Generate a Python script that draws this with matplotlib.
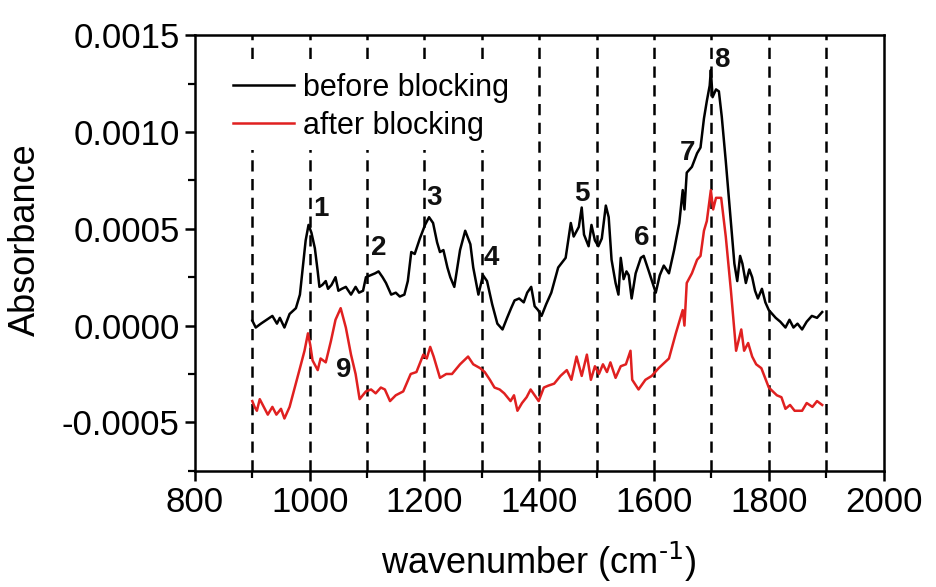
import numpy as np
import matplotlib
matplotlib.use("Agg")
import matplotlib.pyplot as plt
from matplotlib.ticker import MultipleLocator, FormatStrFormatter

plt.rcParams['font.family'] = ['Liberation Sans', 'DejaVu Sans']
plt.rcParams['axes.unicode_minus'] = False
plt.rcParams['mathtext.default'] = 'regular'

# before blocking (black)
wn_before = [900, 906, 915, 925, 935, 943, 948, 956, 965, 976, 983, 988, 993, 998, 1003,
             1009, 1014, 1017, 1022, 1028, 1032, 1038, 1045, 1050, 1056, 1063, 1072, 1080,
             1086, 1093, 1098, 1106, 1114, 1120, 1127, 1133, 1142, 1150, 1157, 1165, 1171,
             1177, 1183, 1192, 1201, 1208, 1215, 1222, 1227, 1233, 1240, 1245, 1252, 1262,
             1271, 1280, 1285, 1294, 1302, 1309, 1318, 1327, 1336, 1344, 1351, 1357, 1365,
             1373, 1379, 1386, 1392, 1398, 1404, 1412, 1421, 1433, 1446, 1455, 1460, 1469,
             1474, 1478, 1486, 1491, 1497, 1503, 1509, 1516, 1521, 1526, 1533, 1538, 1542,
             1547, 1552, 1556, 1561, 1568, 1577, 1582, 1591, 1603, 1610, 1617, 1626, 1635,
             1644, 1650, 1653, 1657, 1666, 1675, 1681, 1687, 1692, 1697, 1699, 1702, 1708,
             1713, 1718, 1725, 1734, 1740, 1745, 1750, 1754, 1760, 1766, 1771, 1776, 1781,
             1788, 1794, 1800, 1812, 1820, 1829, 1836, 1843, 1850, 1858, 1866, 1875, 1884, 1893]
abs_before = [0.000026, -0.00001, 0.00001, 0.00003, 0.00005, 0.00001, 0.00004, -0.00001,
              0.00006, 0.00009, 0.00016, 0.00030, 0.00044, 0.00052, 0.00048,
              0.00040, 0.00028, 0.00020, 0.00021, 0.00023, 0.00019, 0.00021, 0.00025, 0.00018,
              0.00019, 0.00020, 0.00016, 0.00020, 0.00017, 0.00018, 0.00025, 0.00026, 0.00027,
              0.00028, 0.00025, 0.00022, 0.00016, 0.00017, 0.00015, 0.00016, 0.00023,
              0.00038, 0.00037, 0.00045, 0.00052, 0.00056, 0.00053, 0.00043, 0.00038, 0.00039,
              0.00030, 0.00025, 0.00020, 0.00039, 0.00049, 0.00042, 0.00030, 0.00016, 0.00026,
              0.00023, 0.00011, 0.00001, -0.00002, 0.00004, 0.00009, 0.00013, 0.00014,
              0.00012, 0.00017, 0.00020, 0.00010, 0.00008, 0.00005, 0.00011, 0.00017, 0.00030,
              0.00035, 0.00053, 0.00046, 0.00051, 0.00061, 0.00047, 0.00041, 0.00052, 0.00044,
              0.00041, 0.00045, 0.00062, 0.00056, 0.00034, 0.00022, 0.00016, 0.00035,
              0.00024, 0.00028, 0.00026, 0.00014, 0.00027, 0.00035, 0.00036, 0.00028,
              0.00017, 0.00026, 0.00031, 0.00027, 0.00039, 0.00053, 0.00070, 0.00060, 0.00079,
              0.00082, 0.00089, 0.00092, 0.00107, 0.00116, 0.00124, 0.00132, 0.00118, 0.00122,
              0.00121, 0.00108, 0.00085, 0.00053, 0.00032, 0.00023, 0.00036, 0.00032, 0.00022,
              0.00029, 0.00025, 0.00018, 0.00014, 0.00019, 0.00012, 0.00008, 0.00004, 0.00002,
              -0.00001, 0.00003, -0.00001, 0.00001, -0.00002, 0.00002, 0.00005, 0.00004, 0.00007]

# after blocking (red)
wn_after = [900, 904, 908, 913, 920, 927, 935, 942, 950, 956,
            965, 974, 983, 991, 997, 1001, 1005, 1014, 1019, 1028,
            1037, 1045, 1054, 1063, 1072, 1080, 1087, 1098, 1107, 1115,
            1124, 1131, 1140, 1150, 1163, 1176, 1186, 1198, 1204, 1210,
            1216, 1227, 1238, 1248, 1262, 1276, 1285, 1297, 1305, 1314,
            1322, 1331, 1339, 1350, 1356, 1362, 1370, 1378, 1385, 1392,
            1399, 1408, 1416, 1426, 1437, 1448, 1456, 1465, 1474, 1483,
            1490, 1497, 1504, 1511, 1518, 1524, 1533, 1542, 1551, 1559,
            1562, 1573, 1585, 1596, 1608, 1626, 1638, 1650, 1653, 1657,
            1666, 1675, 1681, 1687, 1692, 1699, 1703, 1708, 1717, 1725,
            1734, 1743, 1752, 1757, 1764, 1771, 1778, 1787, 1800, 1814,
            1822, 1829, 1837, 1845, 1858, 1866, 1876, 1884, 1893]
abs_after = [-0.00039, -0.00042, -0.00044, -0.00038, -0.00042, -0.00046, -0.00042, -0.00046, -0.00043, -0.00048,
             -0.00042, -0.00032, -0.00022, -0.00013, -0.00004, -0.00010, -0.00018, -0.00023, -0.00017, -0.00019,
             -0.00008, 0.00003, 0.00009, -0.00001, -0.00015, -0.00025, -0.00038, -0.00034, -0.00033, -0.00035,
             -0.00032, -0.00033, -0.00039, -0.00036, -0.00034, -0.00025, -0.00024, -0.00015, -0.00017, -0.00011,
             -0.00016, -0.00027, -0.00025, -0.00025, -0.00020, -0.00016, -0.00020, -0.00022, -0.00024, -0.00028,
             -0.00032, -0.00033, -0.00035, -0.00039, -0.00036, -0.00044, -0.00040, -0.00037, -0.00033, -0.00036,
             -0.00039, -0.00032, -0.00031, -0.00030, -0.00026, -0.00023, -0.00028, -0.00016, -0.00026, -0.00015,
             -0.00028, -0.00021, -0.00025, -0.00020, -0.00024, -0.00019, -0.00027, -0.00021, -0.00020, -0.00013,
             -0.00028, -0.00033, -0.00028, -0.00026, -0.00022, -0.00017, -0.00004, 0.00008, 0.00000, 0.00022,
             0.00027, 0.00034, 0.00036, 0.00049, 0.00054, 0.00070, 0.00060, 0.00066, 0.00066, 0.00046,
             0.00018, -0.00013, -0.00002, -0.00013, -0.00009, -0.00016, -0.00020, -0.00022, -0.00032, -0.00036,
             -0.00037, -0.00043, -0.00041, -0.00044, -0.00044, -0.00040, -0.00042, -0.00039, -0.00041]

peak_labels = ['1', '2', '3', '4', '5', '6', '7', '8', '9']
peak_x = [1020, 1121, 1217, 1317, 1474, 1578, 1659, 1719, 1060]
peak_y = [0.00060, 0.00040, 0.00066, 0.00035, 0.00068, 0.00045, 0.00089, 0.00137, -0.00023]

guide_lines = [900, 1000, 1100, 1200, 1300, 1400, 1500, 1600, 1700, 1800, 1900]


fig = plt.figure(figsize=(9.37, 5.87), dpi=100)
ax = fig.add_axes([0.208, 0.198, 0.735, 0.742])

for g in guide_lines:
    ax.axvline(g, color='black', linestyle=(0, (4.5, 3)), linewidth=1.8, zorder=1)

ax.plot(wn_before, abs_before, color='black', linewidth=1.8, label='before blocking', zorder=3)
ax.plot(wn_after, abs_after, color='#e02020', linewidth=1.8, label='after blocking', zorder=3)

for lab, px, py in zip(peak_labels, peak_x, peak_y):
    ax.text(px, py, lab, fontsize=20, fontweight='bold', ha='center', va='center', color='#111111')

ax.set_xlim(800, 2000)
ax.set_ylim(-0.00075, 0.0015)
ax.xaxis.set_major_locator(MultipleLocator(200))
ax.xaxis.set_minor_locator(MultipleLocator(100))
ax.yaxis.set_major_locator(MultipleLocator(0.0005))
ax.yaxis.set_minor_locator(MultipleLocator(0.00025))
ax.yaxis.set_major_formatter(FormatStrFormatter('%.4f'))

ax.tick_params(which='major', direction='out', length=7, width=1.8, labelsize=25, pad=4)
ax.tick_params(which='minor', direction='out', length=5, width=1.6)
ax.tick_params(top=False, right=False)
for s in ax.spines.values():
    s.set_linewidth(1.8)

ax.set_xlabel(r'wavenumber (cm$^{\text{-1}}$)', fontsize=26, labelpad=15)
ax.set_ylabel('Absorbance', fontsize=26)
ax.yaxis.set_label_coords(-0.22, 0.53)

leg = ax.legend(loc='upper left', bbox_to_anchor=(0.042, 0.934), frameon=True, fontsize=22,
                handlelength=2.0, handletextpad=0.3, labelspacing=0.25, borderpad=0.3,
                borderaxespad=0, fancybox=False, facecolor='white', edgecolor='none', framealpha=1)
leg.set_zorder(5)

fig.savefig('out.png', dpi=100)
